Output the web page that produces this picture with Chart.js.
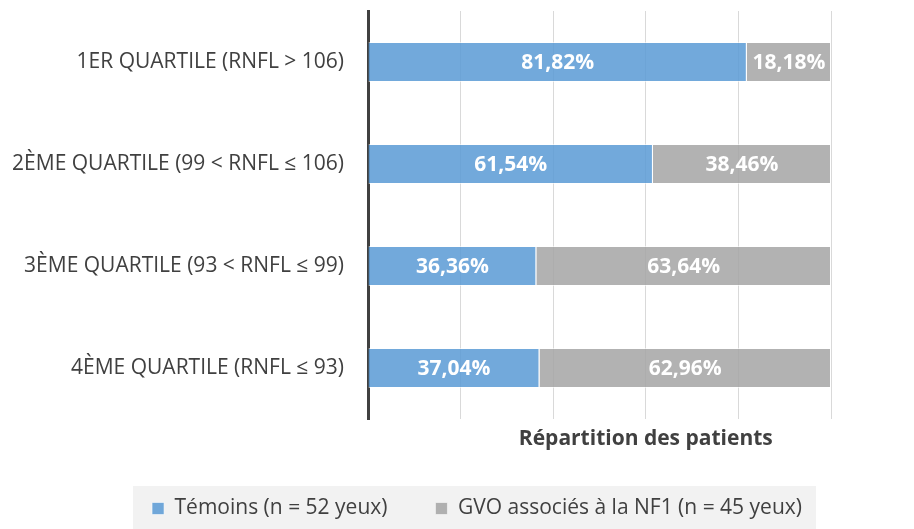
<!DOCTYPE html>
<html><head><meta charset="utf-8">
<script src="https://cdn.jsdelivr.net/npm/chart.js@4.4.0/dist/chart.umd.min.js"></script>
<style>html,body{margin:0;padding:0;background:#fff;}#wrap{width:914px;height:529px;}</style>
</head><body><div id="wrap"><canvas id="c" width="914" height="529"></canvas></div>
<script>
const categories = ['1ER QUARTILE (RNFL > 106)', '2ÈME QUARTILE (99 < RNFL ≤ 106)', '3ÈME QUARTILE (93 < RNFL ≤ 99)', '4ÈME QUARTILE (RNFL ≤ 93)'];
const temoinsValues = [81.82, 61.54, 36.36, 37.04];
const gvoValues = [18.18, 38.46, 63.64, 62.96];
const seriesNames = ['Témoins (n = 52 yeux)', 'GVO associés à la NF1 (n = 45 yeux)'];
const axisTitle = 'Répartition des patients';
const xMin = 0, xMax = 100, xStep = 20;

const TEXT = '#404040';
const FONT = 'Open Sans';
const LEGEND_SHIFT = 20;

const fmt = v => v.toFixed(2).replace('.', ',') + '%';

const legendPatch = {
  id: 'legendPatch',
  afterInit(chart) {
    const lg = chart.legend;
    const origFit = lg.fit.bind(lg);
    lg.fit = function () { origFit(); this.height = 45; };
    const origDraw = lg._draw.bind(lg);
    lg._draw = function () {
      const ctx = this.ctx;
      ctx.save();
      ctx.translate(LEGEND_SHIFT, 14 - this.options.labels.padding);
      origDraw();
      ctx.restore();
    };
  },
  beforeDraw(chart) {
    const lg = chart.legend;
    const hb = lg && lg.legendHitBoxes;
    if (!hb || !hb.length) return;
    const l = Math.min(...hb.map(h => h.left)) - 19 + LEGEND_SHIFT;
    const r = Math.max(...hb.map(h => h.left + h.width)) + 14 + LEGEND_SHIFT;
    const ctx = chart.ctx;
    ctx.save();
    ctx.fillStyle = '#f2f2f2';
    ctx.fillRect(l, lg.top + 2, r - l, lg.bottom - lg.top - 2);
    ctx.restore();
  }
};

const dataLabels = {
  id: 'dataLabels',
  afterDatasetsDraw(chart) {
    const ctx = chart.ctx;
    ctx.save();
    ctx.fillStyle = '#ffffff';
    ctx.font = 'bold 21px "' + FONT + '"';
    ctx.textAlign = 'center';
    ctx.textBaseline = 'middle';
    chart.data.datasets.forEach((ds, i) => {
      const meta = chart.getDatasetMeta(i);
      meta.data.forEach((el, j) => {
        ctx.fillText(fmt(ds.data[j]), (el.x + el.base) / 2, el.y + 1);
      });
    });
    ctx.restore();
  }
};

const axisTitlePlugin = {
  id: 'axisTitlePlugin',
  afterDraw(chart) {
    const a = chart.chartArea;
    const xs = chart.scales.x;
    const ctx = chart.ctx;
    ctx.save();
    ctx.fillStyle = TEXT;
    ctx.font = 'bold 21px "' + FONT + '"';
    ctx.textAlign = 'center';
    ctx.textBaseline = 'middle';
    ctx.fillText(axisTitle, a.left + 0.6 * (a.right - a.left), xs.top + 20);
    ctx.restore();
  }
};

new Chart(document.getElementById('c'), {
  type: 'bar',
  data: {
    labels: categories,
    datasets: [
      { label: seriesNames[0], data: temoinsValues, backgroundColor: 'rgba(91,155,213,0.86)', borderColor: 'rgba(255,255,255,0.55)', borderWidth: 1, barPercentage: 0.392, categoryPercentage: 1 },
      { label: seriesNames[1], data: gvoValues, backgroundColor: 'rgba(165,165,165,0.86)', borderColor: 'rgba(255,255,255,0.55)', borderWidth: 1, barPercentage: 0.392, categoryPercentage: 1 }
    ]
  },
  options: {
    indexAxis: 'y',
    responsive: false,
    animation: false,
    layout: { padding: { top: 11, left: 0, right: 0, bottom: 0 } },
    plugins: {
      tooltip: { enabled: false },
      legend: {
        position: 'bottom',
        labels: { boxWidth: 12, boxHeight: 12, padding: 48, color: TEXT, font: { family: FONT, size: 21 } }
      }
    },
    scales: {
      x: {
        type: 'linear', stacked: true, min: xMin, max: xMax,
        ticks: { display: false, stepSize: xStep },
        grid: { color: '#d9d9d9', lineWidth: 1, drawTicks: false },
        border: { display: false },
        afterFit(s) { s.height = 65; s.paddingLeft = 0; s.paddingRight = 0; }
      },
      y: {
        type: 'category', stacked: true, position: 'left', z: 1,
        grid: { display: false, drawTicks: false },
        border: { display: true, color: TEXT, width: 3 },
        ticks: { color: TEXT, font: { family: FONT, size: 21 }, padding: 24 },
        afterFit(s) { s.width = 368; s.paddingTop = 0; s.paddingBottom = 0; }
      },
      y2: {
        type: 'category', position: 'right', labels: categories, display: true,
        grid: { display: false, drawTicks: false },
        border: { display: false },
        ticks: { display: false },
        afterFit(s) { s.width = 83; s.paddingTop = 0; s.paddingBottom = 0; }
      }
    }
  },
  plugins: [legendPatch, dataLabels, axisTitlePlugin]
});
</script>
</body></html>
